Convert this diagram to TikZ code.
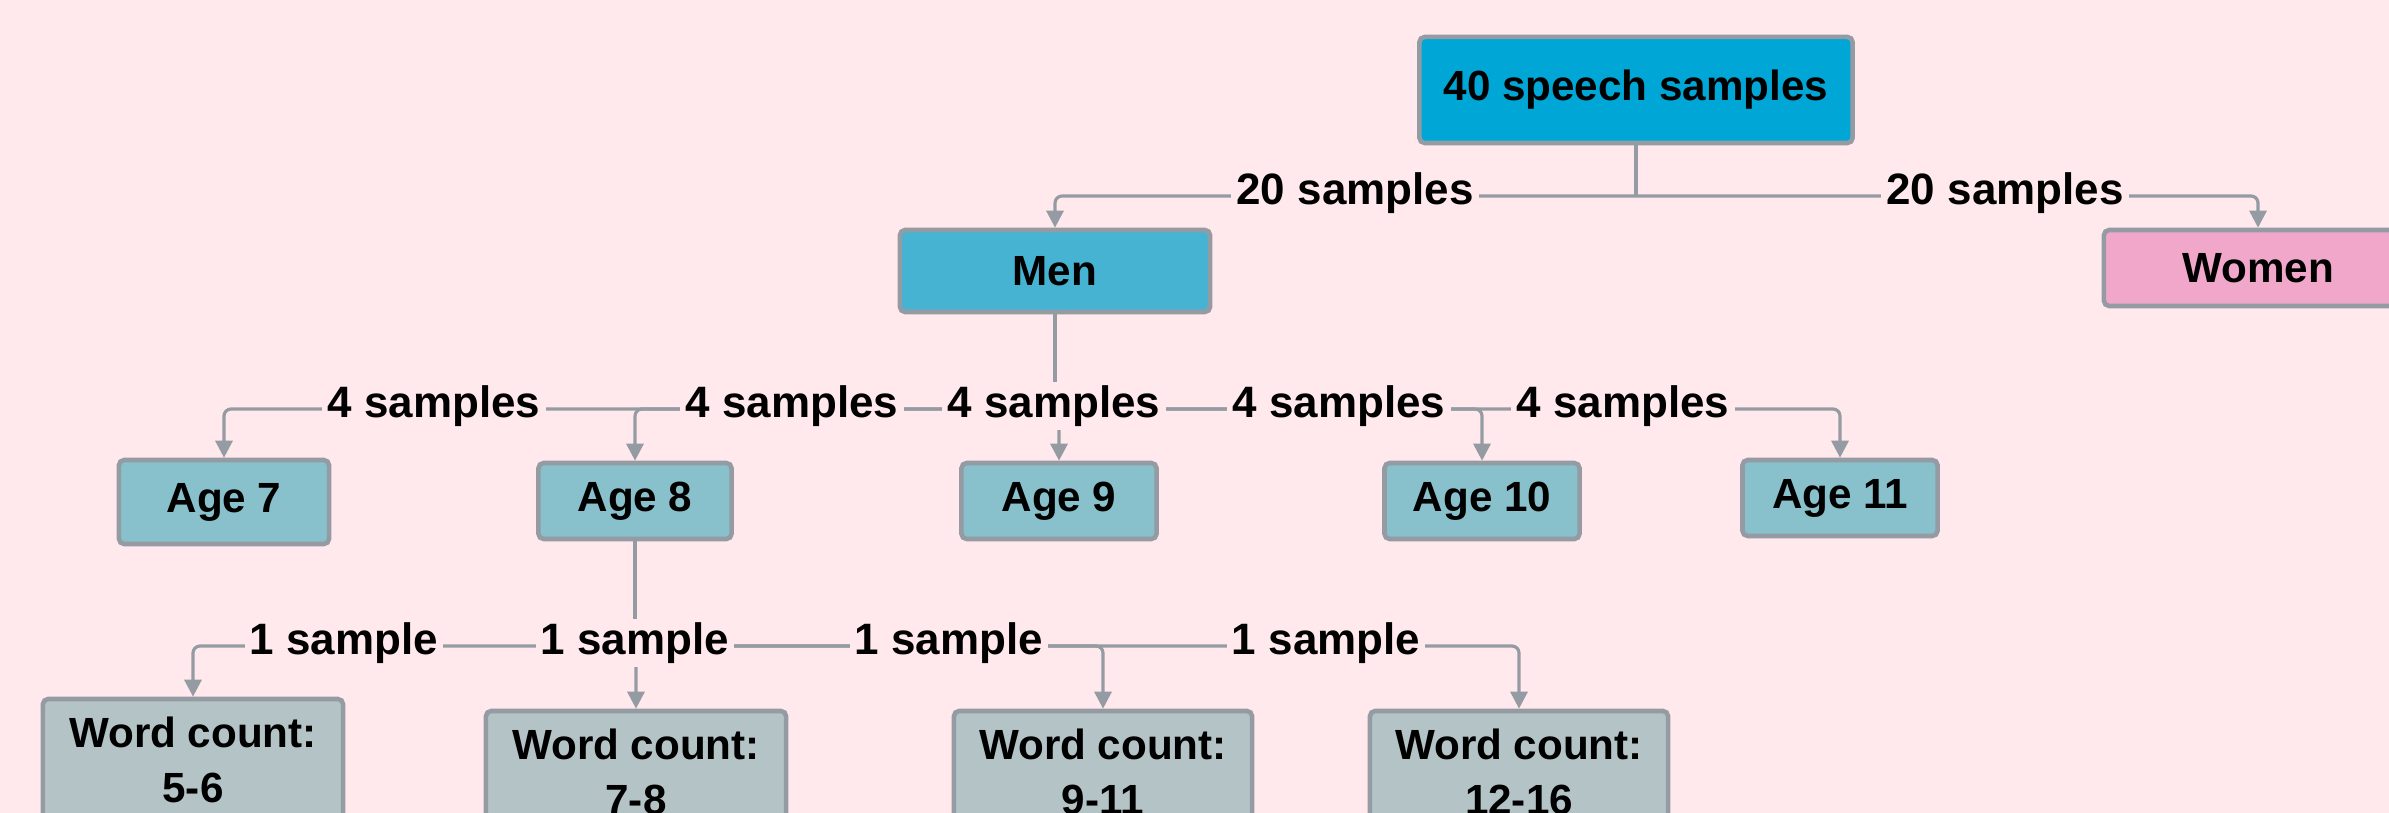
\documentclass[tikz,border=0pt]{standalone}
\usepackage{fontspec}
\setmainfont{Liberation Sans}
\usetikzlibrary{arrows.meta}

\definecolor{bgpink}{HTML}{FFE9EC}
\definecolor{rootblue}{HTML}{00A6D6}
\definecolor{menblue}{HTML}{46B3D3}
\definecolor{womenpink}{HTML}{F1A7C9}
\definecolor{agegreen}{HTML}{88C0CC}
\definecolor{wcgray}{HTML}{B4C3C6}
\definecolor{edgegray}{HTML}{959BA3}

\tikzset{
	box/.style={draw=edgegray, line width=1.3pt, rounded corners=1.5pt, font=\fontsize{12}{15.6}\selectfont\bfseries, align=center, inner sep=0pt},
	conn/.style={draw=edgegray, line width=0.9pt, rounded corners=2pt},
	tip/.style={conn, -{Triangle[width=0.17cm,length=0.17cm]}},
	lbl/.style={fill=bgpink, font=\fontsize{12.5}{15}\selectfont\bfseries, inner xsep=1.5pt, inner ysep=1pt},
}

\begin{document}
\begin{tikzpicture}[x=0.01cm, y=-0.01cm]
	\fill[bgpink] (0,0) rectangle (2389,813);
	\clip (0,0) rectangle (2389,813);
	% boxes
	\node[box, fill=rootblue, minimum width=4.33cm, minimum height=1.06cm] (root) at (1636,90) {40 speech samples};
	\node[box, fill=menblue, minimum width=3.10cm, minimum height=0.82cm] (men) at (1055,271) {Men};
	\node[box, fill=womenpink, minimum width=3.08cm, minimum height=0.76cm] (women) at (2258,268) {Women};
	\node[box, fill=agegreen, minimum width=2.10cm, minimum height=0.84cm] (age7) at (224,502) {Age 7};
	\node[box, fill=agegreen, minimum width=1.93cm, minimum height=0.76cm] (age8) at (635,501) {Age 8};
	\node[box, fill=agegreen, minimum width=1.95cm, minimum height=0.76cm] (age9) at (1059,501) {Age 9};
	\node[box, fill=agegreen, minimum width=1.95cm, minimum height=0.76cm] (age10) at (1482,501) {Age 10};
	\node[box, fill=agegreen, minimum width=1.95cm, minimum height=0.76cm] (age11) at (1840,498) {Age 11};
	\node[box, fill=wcgray, minimum width=3.00cm, minimum height=1.22cm] (wc1) at (193,760) {Word count:\\5-6};
	\node[box, fill=wcgray, minimum width=3.00cm, minimum height=1.22cm] (wc2) at (636,772) {Word count:\\7-8};
	\node[box, fill=wcgray, minimum width=2.98cm, minimum height=1.22cm] (wc3) at (1103,772) {Word count:\\9-11};
	\node[box, fill=wcgray, minimum width=2.98cm, minimum height=1.22cm] (wc4) at (1519,772) {Word count:\\12-16};
	% connectors
	\coordinate (rootbus) at (1636,196);
	\coordinate (menbus) at (1055,409);
	\coordinate (agebus) at (635,646);
	\draw[conn] (root.south) -- (rootbus);
	\draw[tip] (rootbus) -| (men.north);
	\draw[tip] (rootbus) -| (women.north);
	\draw[conn] (men.south) -- (menbus);
	\foreach \a in {age7,age8,age9,age10,age11}
		\draw[tip] (menbus) -| (\a.north);
	\draw[conn] (age8.south) -- (agebus);
	\foreach \w in {wc1,wc2,wc3,wc4}
		\draw[tip] (agebus) -| (\w.north);
	% labels
	\node[lbl] (lw1) at (1355,193) {20 samples};
	\node[lbl] (lw2) at (2005,193) {20 samples};
	\node[lbl] (la1) at (434,406) {4 samples};
	\node[lbl] (la2) at (792,406) {4 samples};
	\node[lbl] (la3) at (1054,406) {4 samples};
	\node[lbl] (la4) at (1339,406) {4 samples};
	\node[lbl] (la5) at (1623,406) {4 samples};
	\node[lbl] (lc1) at (344,643) {1 sample};
	\node[lbl] (lc2) at (635,643) {1 sample};
	\node[lbl] (lc3) at (949,643) {1 sample};
	\node[lbl] (lc4) at (1326,643) {1 sample};
\end{tikzpicture}
\end{document}
